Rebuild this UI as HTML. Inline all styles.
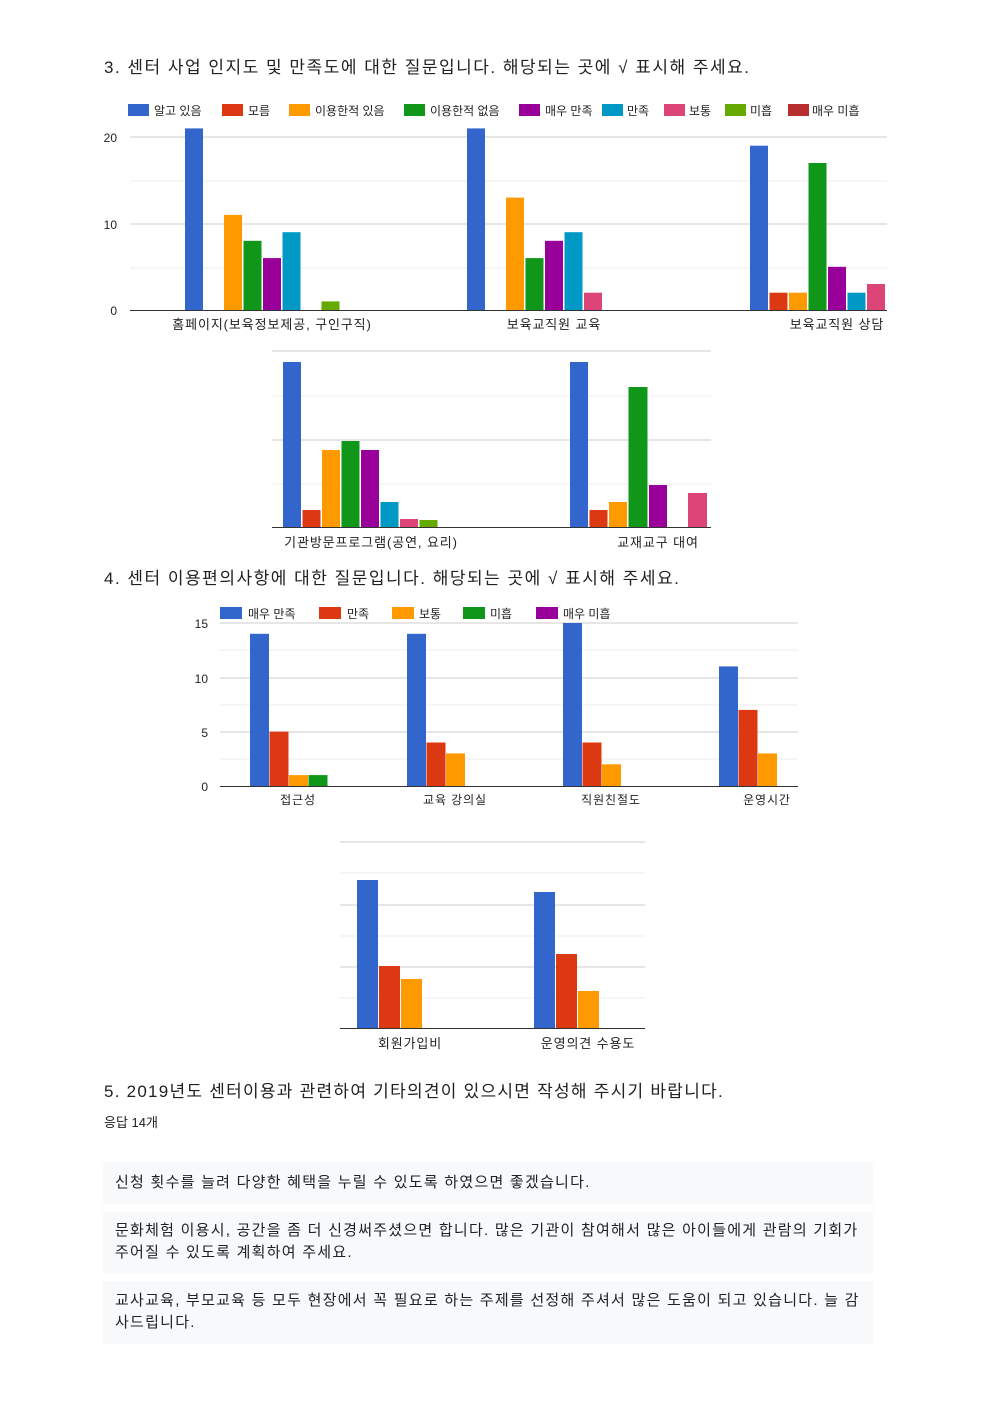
<!DOCTYPE html>
<html><head><meta charset="utf-8"><style>
body{margin:0;background:#fff;}
.pg{position:relative;width:992px;height:1403px;overflow:hidden;font-family:"Liberation Sans","Noto Sans CJK KR",sans-serif;color:#202124;}
.t{position:absolute;white-space:nowrap;}
.h{font-size:17px;letter-spacing:1.5px;}
.box{position:absolute;left:103px;width:770px;background:#f8f9fa;font-size:15px;line-height:22px;color:#202124;box-sizing:border-box;padding:0 12px;letter-spacing:1.25px;white-space:nowrap;}
svg text{font-family:"Liberation Sans","Noto Sans CJK KR",sans-serif;}
.al{letter-spacing:0.9px;}
</style></head><body><div class="pg">
<div class="t h" style="left:104px;top:53px;">3. 센터 사업 인지도 및 만족도에 대한 질문입니다. 해당되는 곳에 √ 표시해 주세요.</div>
<div class="t h" style="left:104px;top:564px;">4. 센터 이용편의사항에 대한 질문입니다. 해당되는 곳에 √ 표시해 주세요.</div>
<div class="t h" style="left:104px;top:1077px;letter-spacing:1.25px;">5. 2019년도 센터이용과 관련하여 기타의견이 있으시면 작성해 주시기 바랍니다.</div>
<div class="t" style="left:104px;top:1112px;font-size:13px;">응답 14개</div>
<div class="box" style="top:1162px;height:42px;padding-top:10px;">신청 횟수를 늘려 다양한 혜택을 누릴 수 있도록 하였으면 좋겠습니다.</div>
<div class="box" style="top:1212px;height:61px;padding-top:8px;">문화체험 이용시, 공간을 좀 더 신경써주셨으면 합니다. 많은 기관이 참여해서 많은 아이들에게 관람의 기회가<br>주어질 수 있도록 계획하여 주세요.</div>
<div class="box" style="top:1281px;height:63px;padding-top:9px;">교사교육, 부모교육 등 모두 현장에서 꼭 필요로 하는 주제를 선정해 주셔서 많은 도움이 되고 있습니다. 늘 감<br>사드립니다.</div>
<svg width="992" height="1403" style="position:absolute;left:0;top:0" font-size="12" fill="#222">
<g font-size="12">
<rect x="128" y="104" width="21" height="12" fill="#3366cc"/><text x="154" y="115">알고 있음</text>
<rect x="222" y="104" width="21" height="12" fill="#dc3912"/><text x="248" y="115">모름</text>
<rect x="289" y="104" width="21" height="12" fill="#ff9900"/><text x="315" y="115">이용한적 있음</text>
<rect x="404" y="104" width="21" height="12" fill="#109618"/><text x="430" y="115">이용한적 없음</text>
<rect x="519" y="104" width="21" height="12" fill="#990099"/><text x="545" y="115">매우 만족</text>
<rect x="602" y="104" width="21" height="12" fill="#0099c6"/><text x="627" y="115">만족</text>
<rect x="664" y="104" width="21" height="12" fill="#dd4477"/><text x="689" y="115">보통</text>
<rect x="725" y="104" width="21" height="12" fill="#66aa00"/><text x="750" y="115">미흡</text>
<rect x="788" y="104" width="21" height="12" fill="#b82e2e"/><text x="812" y="115">매우 미흡</text>
</g>
<g stroke="#ccc" stroke-width="1"><line x1="130" x2="887" y1="137" y2="137"/><line x1="130" x2="887" y1="224" y2="224"/></g>
<g stroke="#eee" stroke-width="1"><line x1="130" x2="887" y1="181" y2="181"/><line x1="130" x2="887" y1="268" y2="268"/></g>
<text x="117" y="142" text-anchor="end">20</text><text x="117" y="229" text-anchor="end">10</text><text x="117" y="315" text-anchor="end">0</text>
<g>
<rect x="185" y="128.4" width="18" height="181.6" fill="#3366cc"/>
<rect x="224" y="214.9" width="18" height="95.1" fill="#ff9900"/>
<rect x="243.5" y="240.8" width="18" height="69.2" fill="#109618"/>
<rect x="263" y="258.1" width="18" height="51.9" fill="#990099"/>
<rect x="282.5" y="232.2" width="18" height="77.8" fill="#0099c6"/>
<rect x="321.5" y="301.4" width="18" height="8.6" fill="#66aa00"/>
<rect x="467" y="128.4" width="18" height="181.6" fill="#3366cc"/>
<rect x="506" y="197.6" width="18" height="112.4" fill="#ff9900"/>
<rect x="525.5" y="258.1" width="18" height="51.9" fill="#109618"/>
<rect x="545" y="240.8" width="18" height="69.2" fill="#990099"/>
<rect x="564.5" y="232.2" width="18" height="77.8" fill="#0099c6"/>
<rect x="584" y="292.7" width="18" height="17.3" fill="#dd4477"/>
<rect x="750" y="145.7" width="18" height="164.3" fill="#3366cc"/>
<rect x="769.5" y="292.7" width="18" height="17.3" fill="#dc3912"/>
<rect x="789" y="292.7" width="18" height="17.3" fill="#ff9900"/>
<rect x="808.5" y="163" width="18" height="147" fill="#109618"/>
<rect x="828" y="266.8" width="18" height="43.2" fill="#990099"/>
<rect x="847.5" y="292.7" width="18" height="17.3" fill="#0099c6"/>
<rect x="867" y="284" width="18" height="26" fill="#dd4477"/>
</g>
<line x1="130" x2="887" y1="310.5" y2="310.5" stroke="#333"/>
<g font-size="13" text-anchor="middle" class="al"><text x="272" y="329">홈페이지(보육정보제공, 구인구직)</text><text x="554" y="329">보육교직원 교육</text><text x="837" y="329">보육교직원 상담</text></g>
<g stroke="#ccc"><line x1="272" x2="711" y1="351" y2="351"/><line x1="272" x2="711" y1="440" y2="440"/></g>
<g stroke="#eee"><line x1="272" x2="711" y1="396" y2="396"/><line x1="272" x2="711" y1="484" y2="484"/></g>
<g>
<rect x="283" y="362" width="18" height="165" fill="#3366cc"/>
<rect x="302.5" y="510" width="18" height="17" fill="#dc3912"/>
<rect x="322" y="450" width="18" height="77" fill="#ff9900"/>
<rect x="341.5" y="441" width="18" height="86" fill="#109618"/>
<rect x="361" y="450" width="18" height="77" fill="#990099"/>
<rect x="380.5" y="502" width="18" height="25" fill="#0099c6"/>
<rect x="400" y="519" width="18" height="8" fill="#dd4477"/>
<rect x="419.5" y="520" width="18" height="7" fill="#66aa00"/>
<rect x="570" y="362" width="18" height="165" fill="#3366cc"/>
<rect x="589.5" y="510" width="18" height="17" fill="#dc3912"/>
<rect x="609" y="502" width="18" height="25" fill="#ff9900"/>
<rect x="628.5" y="387" width="19" height="140" fill="#109618"/>
<rect x="649" y="485" width="18" height="42" fill="#990099"/>
<rect x="688" y="493" width="19" height="34" fill="#dd4477"/>
</g>
<line x1="272" x2="711" y1="527.5" y2="527.5" stroke="#333"/>
<g font-size="13" text-anchor="middle" class="al"><text x="371" y="547">기관방문프로그램(공연, 요리)</text><text x="658" y="547">교재교구 대여</text></g>
<g font-size="12">
<rect x="220" y="607" width="22" height="12" fill="#3366cc"/><text x="248" y="618">매우 만족</text>
<rect x="319" y="607" width="22" height="12" fill="#dc3912"/><text x="347" y="618">만족</text>
<rect x="392" y="607" width="22" height="12" fill="#ff9900"/><text x="419" y="618">보통</text>
<rect x="463" y="607" width="22" height="12" fill="#109618"/><text x="490" y="618">미흡</text>
<rect x="536" y="607" width="22" height="12" fill="#990099"/><text x="563" y="618">매우 미흡</text>
</g>
<g stroke="#ccc"><line x1="220" x2="798" y1="623" y2="623"/><line x1="220" x2="798" y1="678" y2="678"/><line x1="220" x2="798" y1="732" y2="732"/></g>
<g stroke="#eee"><line x1="220" x2="798" y1="650" y2="650"/><line x1="220" x2="798" y1="705" y2="705"/><line x1="220" x2="798" y1="759" y2="759"/></g>
<text x="208" y="628" text-anchor="end">15</text><text x="208" y="683" text-anchor="end">10</text><text x="208" y="737" text-anchor="end">5</text><text x="208" y="791" text-anchor="end">0</text>
<g>
<rect x="250" y="633.8" width="19" height="152.2" fill="#3366cc"/>
<rect x="269.5" y="731.6" width="19" height="54.4" fill="#dc3912"/>
<rect x="289" y="775.1" width="19" height="10.9" fill="#ff9900"/>
<rect x="308.5" y="775.1" width="19" height="10.9" fill="#109618"/>
<rect x="407" y="633.8" width="19" height="152.2" fill="#3366cc"/>
<rect x="426.5" y="742.5" width="19" height="43.5" fill="#dc3912"/>
<rect x="446" y="753.4" width="19" height="32.6" fill="#ff9900"/>
<rect x="563" y="623" width="19" height="163" fill="#3366cc"/>
<rect x="582.5" y="742.5" width="19" height="43.5" fill="#dc3912"/>
<rect x="602" y="764.3" width="19" height="21.7" fill="#ff9900"/>
<rect x="719" y="666.4" width="19" height="119.6" fill="#3366cc"/>
<rect x="738.5" y="709.9" width="19" height="76.1" fill="#dc3912"/>
<rect x="758" y="753.4" width="19" height="32.6" fill="#ff9900"/>
</g>
<line x1="220" x2="798" y1="786.5" y2="786.5" stroke="#333"/>
<g font-size="12" text-anchor="middle" class="al"><text x="298" y="804">접근성</text><text x="455" y="804">교육 강의실</text><text x="611" y="804">직원친절도</text><text x="767" y="804">운영시간</text></g>
<g stroke="#ccc"><line x1="340" x2="645" y1="842" y2="842"/><line x1="340" x2="645" y1="905" y2="905"/><line x1="340" x2="645" y1="967" y2="967"/></g>
<g stroke="#eee"><line x1="340" x2="645" y1="873" y2="873"/><line x1="340" x2="645" y1="936" y2="936"/><line x1="340" x2="645" y1="998" y2="998"/></g>
<g>
<rect x="357" y="880" width="21" height="148" fill="#3366cc"/>
<rect x="379" y="966" width="21" height="62" fill="#dc3912"/>
<rect x="401" y="979" width="21" height="49" fill="#ff9900"/>
<rect x="534" y="892" width="21" height="136" fill="#3366cc"/>
<rect x="556" y="954" width="21" height="74" fill="#dc3912"/>
<rect x="578" y="991" width="21" height="37" fill="#ff9900"/>
</g>
<line x1="340" x2="645" y1="1028.5" y2="1028.5" stroke="#333"/>
<g font-size="13" text-anchor="middle" class="al"><text x="410" y="1048">회원가입비</text><text x="588" y="1048">운영의견 수용도</text></g>
</svg>
</div></body></html>
